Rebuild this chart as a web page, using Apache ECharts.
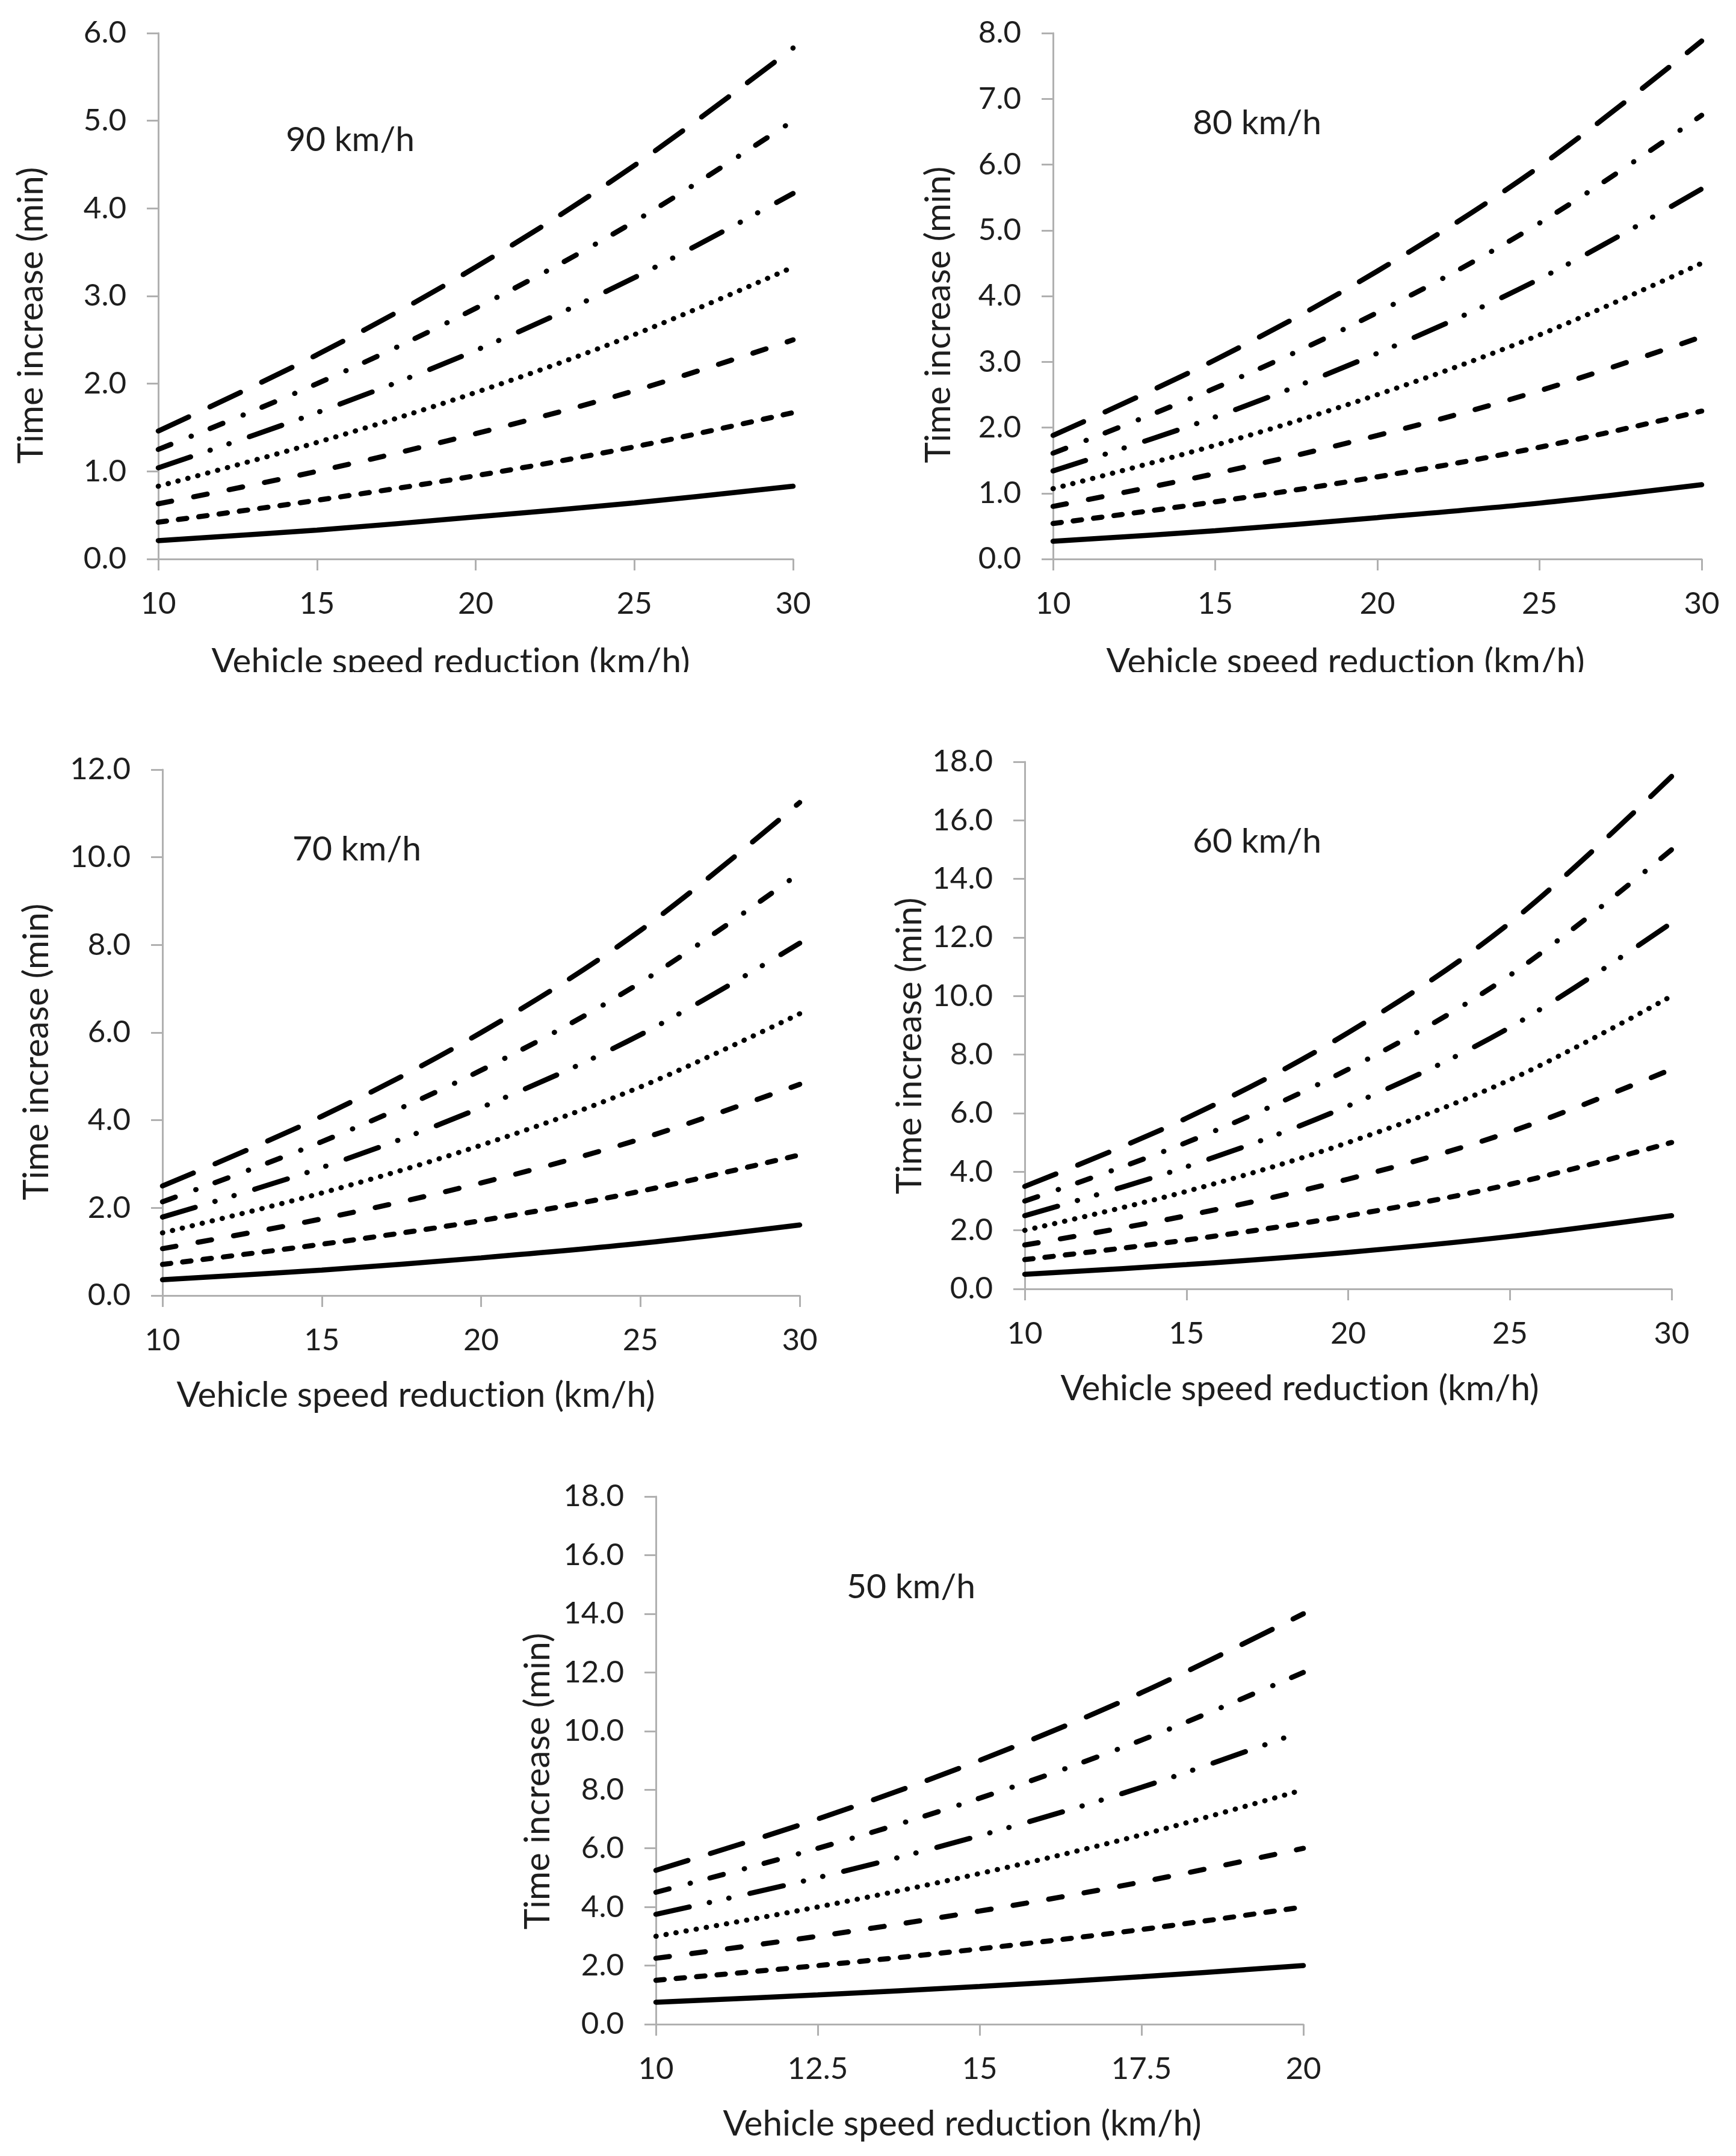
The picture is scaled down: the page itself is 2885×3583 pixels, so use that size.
<!DOCTYPE html>
<html>
<head>
<meta charset="utf-8">
<script src="https://cdn.jsdelivr.net/npm/echarts@6/dist/echarts.min.js"></script>
<style>
html,body{margin:0;padding:0;background:#ffffff;}
#chart{width:2885px;height:3583px;}
</style>
</head>
<body>
<div id="chart"></div>
<script>
// ---------- data ----------
const panelNames = ['90 km/h', '80 km/h', '70 km/h', '60 km/h', '50 km/h'];
const xValues30 = [10, 15, 20, 25, 30];
const xValues20 = [10, 12.5, 15, 17.5, 20];

// each panel: 7 series, bottom (solid) to top (long dash)
const v90 = [
  [0.21, 0.33, 0.48, 0.64, 0.83],
  [0.42, 0.67, 0.95, 1.28, 1.67],
  [0.63, 1.00, 1.43, 1.92, 2.50],
  [0.83, 1.33, 1.90, 2.56, 3.33],
  [1.04, 1.67, 2.38, 3.21, 4.17],
  [1.25, 2.00, 2.86, 3.85, 5.00],
  [1.46, 2.33, 3.33, 4.49, 5.83]
];
const v80 = [
  [0.27, 0.43, 0.63, 0.85, 1.13],
  [0.54, 0.87, 1.25, 1.70, 2.25],
  [0.80, 1.30, 1.88, 2.56, 3.38],
  [1.07, 1.73, 2.50, 3.41, 4.50],
  [1.34, 2.16, 3.13, 4.26, 5.63],
  [1.61, 2.60, 3.75, 5.11, 6.75],
  [1.88, 3.03, 4.38, 5.97, 7.88]
];
const v70 = [
  [0.36, 0.58, 0.86, 1.19, 1.61],
  [0.71, 1.17, 1.71, 2.38, 3.21],
  [1.07, 1.75, 2.57, 3.57, 4.82],
  [1.43, 2.34, 3.43, 4.76, 6.43],
  [1.79, 2.92, 4.29, 5.95, 8.04],
  [2.14, 3.51, 5.14, 7.14, 9.64],
  [2.50, 4.09, 6.00, 8.33, 11.25]
];
const v60 = [
  [0.50, 0.83, 1.25, 1.79, 2.50],
  [1.00, 1.67, 2.50, 3.57, 5.00],
  [1.50, 2.50, 3.75, 5.36, 7.50],
  [2.00, 3.33, 5.00, 7.14, 10.00],
  [2.50, 4.17, 6.25, 8.93, 12.50],
  [3.00, 5.00, 7.50, 10.71, 15.00],
  [3.50, 5.83, 8.75, 12.50, 17.50]
];
const v50 = [
  [0.75, 1.00, 1.29, 1.62, 2.00],
  [1.50, 2.00, 2.57, 3.23, 4.00],
  [2.25, 3.00, 3.86, 4.85, 6.00],
  [3.00, 4.00, 5.14, 6.46, 8.00],
  [3.75, 5.00, 6.43, 8.08, 10.00],
  [4.50, 6.00, 7.71, 9.69, 12.00],
  [5.25, 7.00, 9.00, 11.31, 14.00]
];

// axis ranges / ticks
const yMax = [6, 8, 12, 18, 18];
const yStep = [1, 1, 2, 2, 2];
const xMin = [10, 10, 10, 10, 10];
const xMax = [30, 30, 30, 30, 20];
const xStep = [5, 5, 5, 5, 2.5];

// (zero-width non-joiner keeps the "t" and "i" from being merged into a ligature)
const xTitle = 'Vehicle speed reduct\u200Cion (km/h)';
const yTitle = 'Time increase (min)';

// ---------- layout & styles ----------
const panelData = [v90, v80, v70, v60, v50];
const panelX = [xValues30, xValues30, xValues30, xValues30, xValues20];

const grids = [
  {left: 263,  top: 55,   width: 1055, height: 874},
  {left: 1750, top: 55,   width: 1078, height: 874},
  {left: 270,  top: 1279, width: 1059, height: 874},
  {left: 1703, top: 1266, width: 1075, height: 876},
  {left: 1090, top: 2487, width: 1076, height: 877}
];
const labelPos = [[582, 233], [2089, 205], [593, 1412], [2089, 1399], [1514, 2638]];
const xTitlePos = [[749, 1100], [2236, 1100], [691, 2319], [2160, 2308], [1599, 3530]];
const yTitlePos = [[52, 524], [1560, 523], [61, 1748], [1512, 1738], [894, 2960]];

const dashes = [
  'solid',
  [14, 20],
  [23, 37],
  [0.5, 16.5],
  [57, 34, 0.5, 32.5, 0.5, 35.5],
  [23, 36, 0.5, 33.5],
  [56, 39]
];

const FONT = 'Lato';
const TXT = '#1e1e1e';
const AX = '#b0b0b0';

const option = {
  backgroundColor: '#ffffff',
  animation: false,
  grid: grids.map(g => Object.assign({containLabel: false}, g)),
  xAxis: grids.map((g, i) => ({
    type: 'value', gridIndex: i,
    min: xMin[i], max: xMax[i], interval: xStep[i],
    axisLine: {show: true, onZero: false, lineStyle: {color: AX, width: 3}},
    axisTick: {show: true, inside: false, length: 19, lineStyle: {color: AX, width: 3}},
    splitLine: {show: false},
    axisLabel: {
      show: true, margin: 49, color: TXT, fontFamily: FONT, fontSize: 51,
      formatter: v => String(v)
    }
  })),
  yAxis: grids.map((g, i) => ({
    type: 'value', gridIndex: i,
    min: 0, max: yMax[i], interval: yStep[i],
    axisLine: {show: true, lineStyle: {color: AX, width: 3}},
    axisTick: {show: true, inside: false, length: 19, lineStyle: {color: AX, width: 3}},
    splitLine: {show: false},
    axisLabel: {
      show: true, margin: 53, color: TXT, fontFamily: FONT, fontSize: 51,
      formatter: v => v.toFixed(1)
    }
  })),
  series: [],
  graphic: []
};

panelData.forEach((vals, i) => {
  vals.forEach((ys, j) => {
    option.series.push({
      type: 'line',
      xAxisIndex: i, yAxisIndex: i,
      data: panelX[i].map((x, k) => [x, ys[k]]),
      showSymbol: false, symbol: 'none',
      smooth: 0.35,
      silent: true,
      lineStyle: {color: '#000000', width: 8.5, type: dashes[j], cap: 'round'},
      z: 2
    });
  });
  option.graphic.push({
    type: 'text', x: labelPos[i][0], y: labelPos[i][1], z: 5,
    style: {text: panelNames[i], fill: TXT, fontFamily: FONT, fontSize: 57, align: 'center', verticalAlign: 'middle'}
  });
  option.graphic.push({
    type: 'text', x: xTitlePos[i][0], y: xTitlePos[i][1], z: 5,
    style: {text: xTitle, fill: TXT, fontFamily: FONT, fontSize: 58.5, align: 'center', verticalAlign: 'middle'}
  });
  option.graphic.push({
    type: 'text', x: yTitlePos[i][0], y: yTitlePos[i][1], rotation: Math.PI / 2, z: 5,
    style: {text: yTitle, fill: TXT, fontFamily: FONT, fontSize: 58.5, align: 'center', verticalAlign: 'middle'}
  });
});

// the top row's x-axis titles are cut off at the bottom in the reference
option.graphic.push({
  type: 'rect', z: 20,
  shape: {x: 0, y: 1117, width: 2885, height: 60},
  style: {fill: '#ffffff'}
});

const chart = echarts.init(document.getElementById('chart'), null, {renderer: 'canvas'});
chart.setOption(option);
</script>
</body>
</html>
